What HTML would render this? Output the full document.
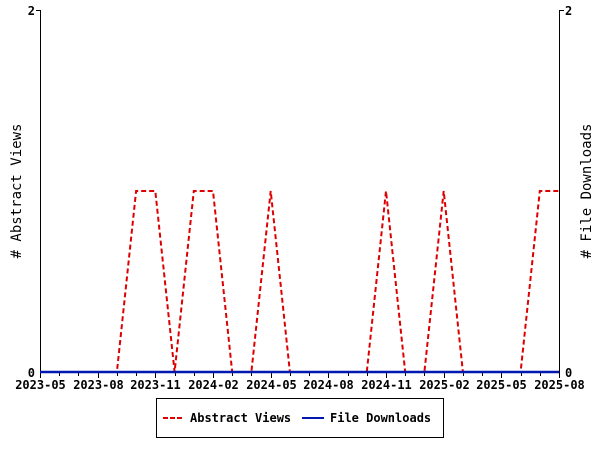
<!DOCTYPE html>
<html><head><style>body{margin:0;background:#fff}svg{display:block}text{font-family:"DejaVu Sans Mono","Liberation Mono",monospace;font-size:12px;font-weight:bold}</style></head>
<body>
<svg width="600" height="450" xmlns="http://www.w3.org/2000/svg">
<rect width="600" height="450" fill="#fff"/>
<line x1="40.5" y1="10" x2="40.5" y2="372" stroke="#000"/>
<line x1="559.5" y1="10" x2="559.5" y2="372" stroke="#000"/>
<line x1="36" y1="10.5" x2="40" y2="10.5" stroke="#000"/>
<line x1="560" y1="10.5" x2="564" y2="10.5" stroke="#000"/>
<g stroke="#000" id="ticks"></g>
<text x="35" y="15" text-anchor="end">2</text>
<text x="35" y="377" text-anchor="end">0</text>
<text x="565" y="15">2</text>
<text x="565" y="377">0</text>
<g id="xl" text-anchor="middle"></g>
<text transform="translate(21,191) rotate(-90)" text-anchor="middle" style="font-size:14px;font-weight:normal"># Abstract Views</text>
<text transform="translate(591,191) rotate(-90)" text-anchor="middle" style="font-size:14px;font-weight:normal"># File Downloads</text>
<polyline id="av" fill="none" stroke="#d00" stroke-width="2" stroke-dasharray="5,3"/>
<line x1="40" y1="372" x2="559" y2="372" stroke="#0018b0" stroke-width="2.5"/>
<rect x="156.5" y="398.5" width="287" height="39" fill="none" stroke="#000"/>
<line x1="163" y1="418" x2="184" y2="418" stroke="#d00" stroke-width="2" stroke-dasharray="5,2"/>
<text x="190" y="422">Abstract Views</text>
<line x1="302" y1="418" x2="324" y2="418" stroke="#0018b0" stroke-width="2"/>
<text x="330" y="422">File Downloads</text>
</svg>
<script>
const s=519/27,ns="http://www.w3.org/2000/svg";
const t=document.getElementById('ticks'),xl=document.getElementById('xl');
const labs=["2023-05","2023-08","2023-11","2024-02","2024-05","2024-08","2024-11","2025-02","2025-05","2025-08"];
for(let i=0;i<=27;i++){const x=Math.round(40+s*i)+0.5;const l=document.createElementNS(ns,'line');
l.setAttribute('x1',x);l.setAttribute('x2',x);l.setAttribute('y1',372);l.setAttribute('y2',i%3==0?378:376);t.appendChild(l);
if(i%3==0){const tx=document.createElementNS(ns,'text');tx.setAttribute('x',x);tx.setAttribute('y',389);tx.textContent=labs[i/3];xl.appendChild(tx);}}
const v=[0,0,0,0,0,1,1,0,1,1,0,0,1,0,0,0,0,0,1,0,0,1,0,0,0,0,1,1];
document.getElementById('av').setAttribute('points',v.map((y,i)=>(40+s*i).toFixed(1)+','+(y?191:372)).join(' '));
</script>
</body></html>
